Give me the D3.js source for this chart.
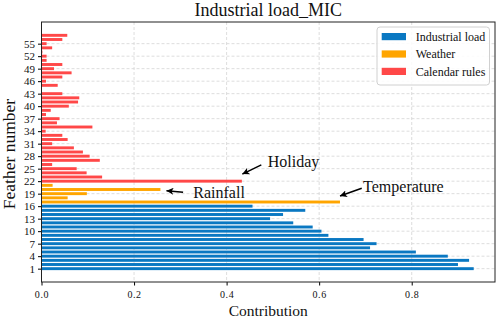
<!DOCTYPE html>
<html>
<head>
<meta charset="utf-8">
<script src="https://cdn.jsdelivr.net/npm/d3@7"></script>
<style>
  body { margin: 0; background: #fff; }
  text { font-family: "Liberation Serif", "Times New Roman", serif; fill: #111; }
</style>
</head>
<body>
<svg id="chart" width="498" height="320"></svg>
<script>
// feature contributions
const industrialLoad = [0.934, 0.900, 0.924, 0.878, 0.809, 0.710, 0.724, 0.696, 0.620, 0.605,
                        0.586, 0.544, 0.494, 0.522, 0.570, 0.456];            // features 1-16
const weather = [0.645, 0.0565, 0.098, 0.257, 0.024];                         // features 17-21
const calendarRules = [0.433, 0.131, 0.0975, 0.076, 0.023, 0.126, 0.104, 0.0895, 0.070, 0.023,
                       0.0565, 0.045, 0.009, 0.110, 0.0334, 0.039, 0.0097, 0.020, 0.059, 0.079,
                       0.0816, 0.045, 0.001, 0.035, 0.0097, 0.045, 0.065, 0.027, 0.045, 0.011,
                       0.011, 0.002, 0.023, 0.011, 0.045, 0.0557];            // features 22-57
const groupNames = ['Industrial load', 'Weather', 'Calendar rules'];
const groupColors = ['#0a78c2', '#ffa500', '#ff4848'];
const xTicks = [0.0, 0.2, 0.4, 0.6, 0.8];
const yTicks = d3.range(1, 58, 3);

// annotations: label, arrow tip, arrow tail, text anchor (data units)
const annoLabels = ['Holiday', 'Rainfall', 'Temperature'];
const annoTip = [[0.434, 23.7], [0.270, 19.7], [0.645, 18.45]];
const annoTail = [[0.475, 25.9], [0.306, 19.35], [0.692, 20.3]];
const annoText = [[0.489, 26.85], [0.328, 19.4], [0.695, 20.65]];

const W = 498, H = 320;
const MARGIN = { left: 41.5, right: 3, top: 22, bottom: 38 };
const FONT = '"Liberation Serif", "Times New Roman", serif';

// build one flat list of bars
let bars = [];
[industrialLoad, weather, calendarRules].forEach((arr, g) => {
    arr.forEach(v => bars.push({ feature: bars.length + 1, value: v, group: g }));
});

const xScale = d3.scaleLinear().domain([0, 0.98]).range([MARGIN.left, W - MARGIN.right]);
const yScale = d3.scaleLinear().domain([-2.2, 60.2]).range([H - MARGIN.bottom, MARGIN.top]);
const barH = 0.7 * (yScale(0) - yScale(1));

const svg = d3.select('#chart');

// grid
svg.append('g').selectAll('line.vg')
    .data(xTicks.slice(1))
    .join('line')
    .attr('x1', d => xScale(d)).attr('x2', d => xScale(d))
    .attr('y1', MARGIN.top).attr('y2', H - MARGIN.bottom)
    .attr('stroke', '#d4d4d4').attr('stroke-width', 0.8).attr('stroke-dasharray', '3,2');
svg.append('g').selectAll('line.hg')
    .data(yTicks)
    .join('line')
    .attr('x1', MARGIN.left).attr('x2', W - MARGIN.right)
    .attr('y1', d => yScale(d)).attr('y2', d => yScale(d))
    .attr('stroke', '#d4d4d4').attr('stroke-width', 0.8).attr('stroke-dasharray', '3,2');

// bars
svg.append('g').selectAll('rect')
    .data(bars)
    .join('rect')
    .attr('x', xScale(0))
    .attr('y', d => yScale(d.feature) - barH / 2)
    .attr('width', d => xScale(d.value) - xScale(0))
    .attr('height', barH)
    .attr('fill', d => groupColors[d.group]);

// axes
const xAxis = svg.append('g')
    .attr('transform', `translate(0,${H - MARGIN.bottom})`)
    .call(d3.axisBottom(xScale).tickValues(xTicks).tickFormat(d3.format('.1f')).tickSizeOuter(0).tickSize(3.5).tickPadding(5));
xAxis.attr('font-family', FONT);
xAxis.select('.domain').remove();
xAxis.selectAll('text').attr('font-size', 10).attr('letter-spacing', '0.6px').attr('fill', '#222');

const yAxis = svg.append('g')
    .attr('transform', `translate(${MARGIN.left},0)`)
    .call(d3.axisLeft(yScale).tickValues(yTicks).tickSizeOuter(0).tickSize(3.5).tickPadding(3));
yAxis.attr('font-family', FONT);
yAxis.select('.domain').remove();
yAxis.selectAll('text').attr('font-size', 11).attr('fill', '#111');

// frame
svg.append('rect')
    .attr('x', MARGIN.left).attr('y', MARGIN.top)
    .attr('width', W - MARGIN.left - MARGIN.right)
    .attr('height', H - MARGIN.top - MARGIN.bottom)
    .attr('fill', 'none').attr('stroke', '#222').attr('stroke-width', 1);

// titles
svg.append('text')
    .attr('x', (MARGIN.left + W - MARGIN.right) / 2).attr('y', 15.5)
    .attr('text-anchor', 'middle').attr('font-size', 18)
    .text('Industrial load_MIC');
svg.append('text')
    .attr('x', (MARGIN.left + W - MARGIN.right) / 2).attr('y', 316)
    .attr('text-anchor', 'middle').attr('font-size', 15.5)
    .text('Contribution');
svg.append('text')
    .attr('transform', `translate(15,154) rotate(-90)`)
    .attr('text-anchor', 'middle').attr('font-size', 17.5)
    .text('Feather number');

// annotations
svg.append('defs').append('marker')
    .attr('id', 'arrow')
    .attr('viewBox', '0 0 10 10')
    .attr('refX', 10).attr('refY', 5)
    .attr('markerWidth', 7).attr('markerHeight', 7)
    .attr('markerUnits', 'userSpaceOnUse')
    .attr('orient', 'auto')
    .append('path').attr('d', 'M0,0L10,5L0,10L2.5,5Z').attr('fill', '#000');

annoLabels.forEach((label, i) => {
    svg.append('line')
        .attr('x1', xScale(annoTail[i][0])).attr('y1', yScale(annoTail[i][1]))
        .attr('x2', xScale(annoTip[i][0])).attr('y2', yScale(annoTip[i][1]))
        .attr('stroke', '#000').attr('stroke-width', 1.5)
        .attr('marker-end', 'url(#arrow)');
    svg.append('text')
        .attr('x', xScale(annoText[i][0])).attr('y', yScale(annoText[i][1]))
        .attr('dy', '0.35em').attr('font-size', 16)
        .text(label);
});

// legend
const legend = svg.append('g').attr('transform', 'translate(377,27)');
legend.append('rect')
    .attr('width', 112.5).attr('height', 58).attr('rx', 3)
    .attr('fill', 'rgba(255,255,255,0.85)').attr('stroke', '#d0d0d0').attr('stroke-width', 1);
groupNames.forEach((name, i) => {
    legend.append('rect')
        .attr('x', 4.7).attr('y', 6 + i * 17.4)
        .attr('width', 24.3).attr('height', 7.2)
        .attr('fill', groupColors[i]);
    legend.append('text')
        .attr('x', 38.7).attr('y', 9.6 + i * 17.4)
        .attr('dy', '0.35em').attr('font-size', 12)
        .text(name);
});
</script>
</body>
</html>
